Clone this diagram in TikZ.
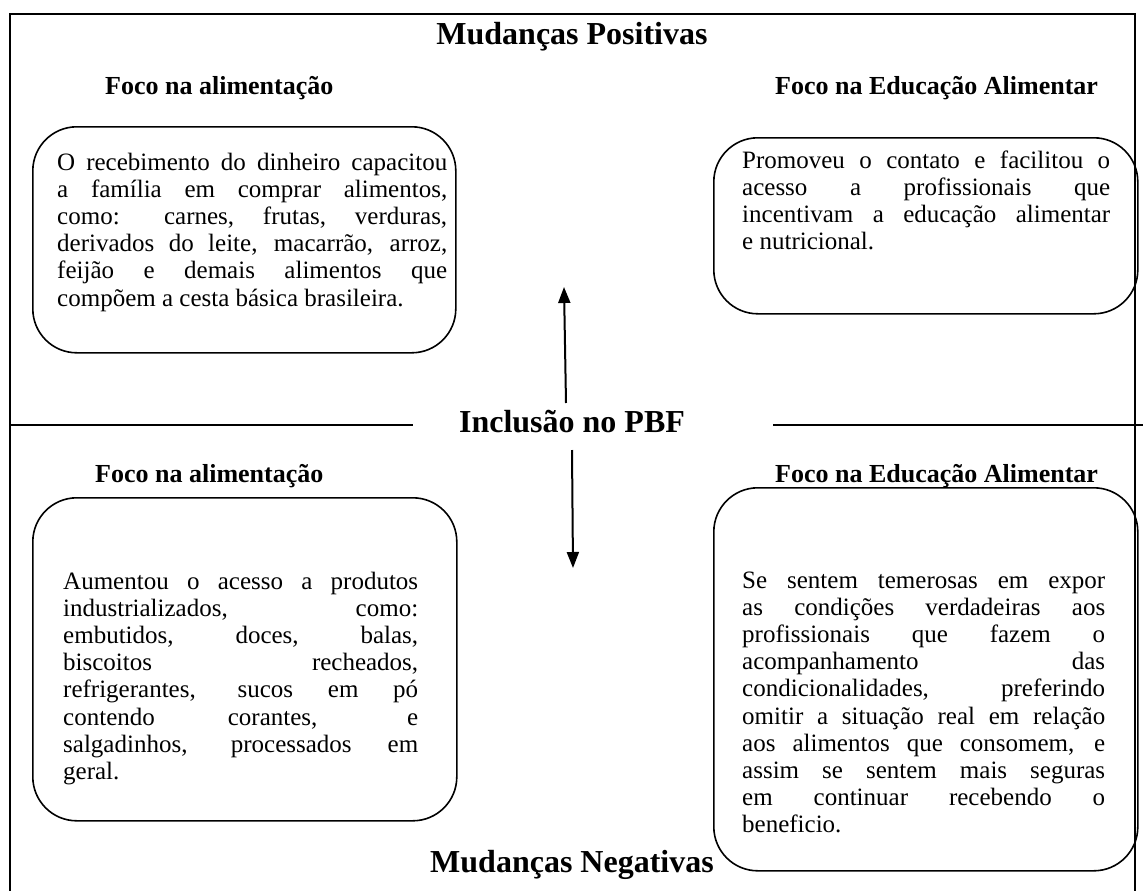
\documentclass[tikz,border=0pt]{standalone}
\usepackage{fontspec}
\setmainfont{Liberation Serif}
\usetikzlibrary{arrows.meta}
\newcommand{\JL}[1]{\hbox to\hsize{#1}}
\newcommand{\LL}[1]{\hbox{#1}}
\newcommand{\para}[2]{\vtop{\hsize=#1\fontsize{25}{27.2}\selectfont #2}}
\begin{document}
\begin{tikzpicture}[x=1pt,y=-1pt,
  frameline/.style={line width=2.4pt},
  midline/.style={line width=1.4pt},
  rbox/.style={draw, line width=1.6pt, rounded corners=44pt},
  bodytext/.style={anchor=base west, inner sep=0pt},
  bigtitle/.style={anchor=base, inner sep=0pt, font=\bfseries\fontsize{32}{36}\selectfont},
  focus/.style={anchor=base west, inner sep=0pt, font=\bfseries\fontsize{26}{30}\selectfont},
  arr/.style={line width=2pt, -{Triangle[width=12pt,length=16pt]}}]
\useasboundingbox (0,0) rectangle (1143,891);
\fill[white] (0,0) rectangle (1143,891);
% outer frame (open at the bottom)
\draw[frameline] (10,891) -- (10,14) -- (1135,14) -- (1135,891);
% titles
\node[bigtitle] (pos) at (572,45) {Mudanças Positivas};
\node[bigtitle] (neg) at (572,872) {Mudanças Negativas};
\node[anchor=base, inner sep=0pt, font=\bfseries\fontsize{32}{36}\selectfont] (pbf) at (572,432) {Inclusão no PBF};
\node[focus] (f1) at (105,94) {Foco na alimentação};
\node[focus] (f2) at (775,94) {Foco na Educação Alimentar};
\node[focus] (f3) at (95,482) {Foco na alimentação};
\node[focus] (f4) at (775,482) {Foco na Educação Alimentar};
% separator lines
\coordinate (ml1) at (10,425);
\coordinate (ml2) at (413,425);
\coordinate (mr1) at (773,425);
\coordinate (mr2) at (1143,425);
\draw[midline] (ml1) -- (ml2);
\draw[midline] (mr1) -- (mr2);
% rounded boxes
\node[rbox, anchor=north west, minimum width=423pt, minimum height=226pt] (b1) at (32,126) {};
\node[rbox, anchor=north west, minimum width=424pt, minimum height=176pt] (b2) at (713,137) {};
\node[rbox, anchor=north west, minimum width=424pt, minimum height=323pt] (b3) at (32,497) {};
\node[rbox, anchor=north west, minimum width=424pt, minimum height=383pt] (b4) at (713,487) {};
% box texts
\node[bodytext] (t1) at (57,170) {\para{390pt}{%
\JL{O recebimento do dinheiro capacitou}
\JL{a família em comprar alimentos,}
\JL{como: carnes, frutas, verduras,}
\JL{derivados do leite, macarrão, arroz,}
\JL{feijão e demais alimentos que}
\LL{compõem a cesta básica brasileira.}}};
\node[bodytext] (t2) at (742,168) {\para{368pt}{%
\JL{Promoveu o contato e facilitou o}
\JL{acesso a profissionais que}
\JL{incentivam a educação alimentar}
\LL{e nutricional.}}};
\node[bodytext] (t3) at (63,589) {\para{355pt}{%
\JL{Aumentou o acesso a produtos}
\JL{industrializados, como:}
\JL{embutidos, doces, balas,}
\JL{biscoitos recheados,}
\JL{refrigerantes, sucos em pó}
\JL{contendo corantes, e}
\JL{salgadinhos, processados em}
\LL{geral.}}};
\node[bodytext] (t4) at (742,588) {\para{363pt}{%
\JL{Se sentem temerosas em expor}
\JL{as condições verdadeiras aos}
\JL{profissionais que fazem o}
\JL{acompanhamento das}
\JL{condicionalidades, preferindo}
\JL{omitir a situação real em relação}
\JL{aos alimentos que consomem, e}
\JL{assim se sentem mais seguras}
\JL{em continuar recebendo o}
\LL{beneficio.}}};
% arrows
\coordinate (upS) at (566,403);
\coordinate (upE) at (564,287);
\coordinate (dnS) at (572,450);
\coordinate (dnE) at (573,568);
\draw[arr] (upS) -- (upE);
\draw[arr] (dnS) -- (dnE);
\end{tikzpicture}
\end{document}
